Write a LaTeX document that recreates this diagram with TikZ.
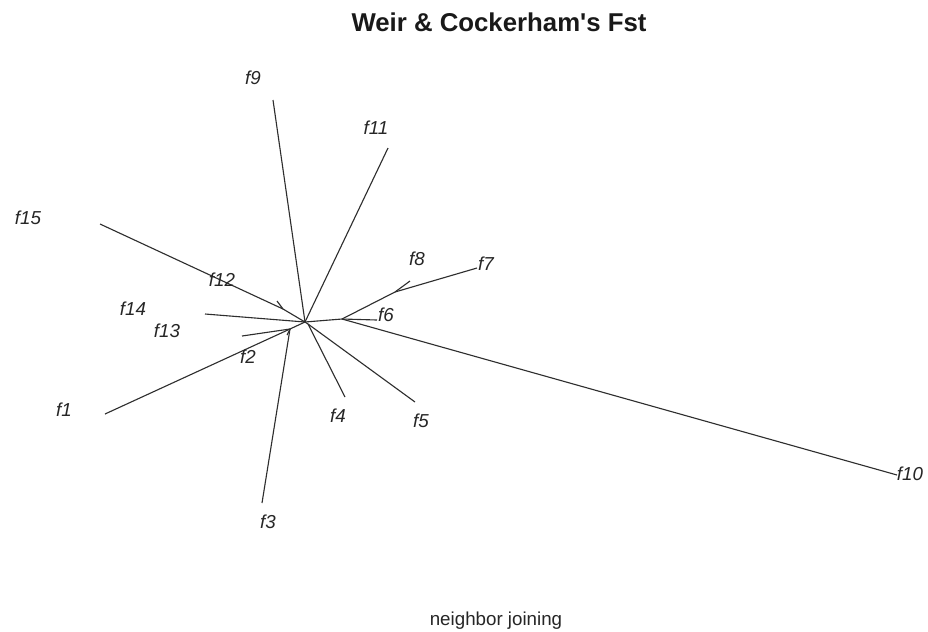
\documentclass[tikz,border=0pt]{standalone}
\usepackage{fontspec}
\setmainfont{Liberation Sans}
\usepackage{tikz}
\usetikzlibrary{positioning,calc}
\definecolor{BranchGray}{HTML}{2E2E2E}
\definecolor{LabelGray}{HTML}{262626}

\begin{document}
\begin{tikzpicture}[x=0.03cm,y=-0.03cm,
    branch/.style={draw=BranchGray, line width=0.95pt},
    leaflabel/.style={font=\fontsize{16}{18}\selectfont\itshape, text=LabelGray, inner sep=0pt}]
  \useasboundingbox[fill=white] (0,0) rectangle (928,631);
  % titles
  \node[font=\fontsize{22}{24}\selectfont\bfseries, text=black!90] (title) at (499,22) {Weir \& Cockerham\textquotesingle s Fst};
  \node[font=\fontsize{16}{18}\selectfont, text=LabelGray] (method) at (496,621) {neighbor joining};
  % inner nodes of the tree
  \coordinate (root) at (305,322);
  \coordinate (nR) at (342,319);
  \coordinate (nC) at (395,292);
  \coordinate (nD) at (283,309);
  \coordinate (nE) at (290,329);
  \coordinate (nF) at (308,324);
  % leaf ends
  \coordinate (t9) at (273,100);
  \coordinate (t11) at (388,148);
  \coordinate (t15) at (100,224);
  \coordinate (t12) at (277,301);
  \coordinate (t14) at (205,314);
  \coordinate (t13) at (242,336);
  \coordinate (t2) at (287,335);
  \coordinate (t1) at (105,414);
  \coordinate (t3) at (262,503);
  \coordinate (t4) at (345,397);
  \coordinate (t5) at (415,402);
  \coordinate (t6) at (377,320);
  \coordinate (t7) at (477,268);
  \coordinate (t8) at (410,281);
  \coordinate (t10) at (897,475);
  % branches
  \draw[branch] (root) -- (t9);
  \draw[branch] (root) -- (t11);
  \draw[branch] (root) -- (nD) -- (t15);
  \draw[branch] (nD) -- (t12);
  \draw[branch] (root) -- (t14);
  \draw[branch] (root) -- (nE);
  \draw[branch] (nE) -- (t13);
  \draw[branch] (nE) -- (t2);
  \draw[branch] (nE) -- (t1);
  \draw[branch] (nE) -- (t3);
  \draw[branch] (root) -- (nF);
  \draw[branch] (nF) -- (t4);
  \draw[branch] (nF) -- (t5);
  \draw[branch] (root) -- (nR);
  \draw[branch] (nR) -- (t6);
  \draw[branch] (nR) -- (t10);
  \draw[branch] (nR) -- (nC) -- (t7);
  \draw[branch] (nC) -- (t8);
  % leaf labels
  \node[leaflabel] (f9) at (253,78) {f9};
  \node[leaflabel] (f11) at (376,128) {f11};
  \node[leaflabel] (f15) at (28,218) {f15};
  \node[leaflabel] (f8) at (417,259) {f8};
  \node[leaflabel] (f7) at (486,264) {f7};
  \node[leaflabel] (f12) at (222,280) {f12};
  \node[leaflabel] (f14) at (133,309) {f14};
  \node[leaflabel] (f13) at (167,331) {f13};
  \node[leaflabel] (f6) at (386,315) {f6};
  \node[leaflabel] (f2) at (248,357) {f2};
  \node[leaflabel] (f1) at (64,410) {f1};
  \node[leaflabel] (f4) at (338,416) {f4};
  \node[leaflabel] (f5) at (421,421) {f5};
  \node[leaflabel] (f10) at (910,474) {f10};
  \node[leaflabel] (f3) at (268,522) {f3};
\end{tikzpicture}
\end{document}
